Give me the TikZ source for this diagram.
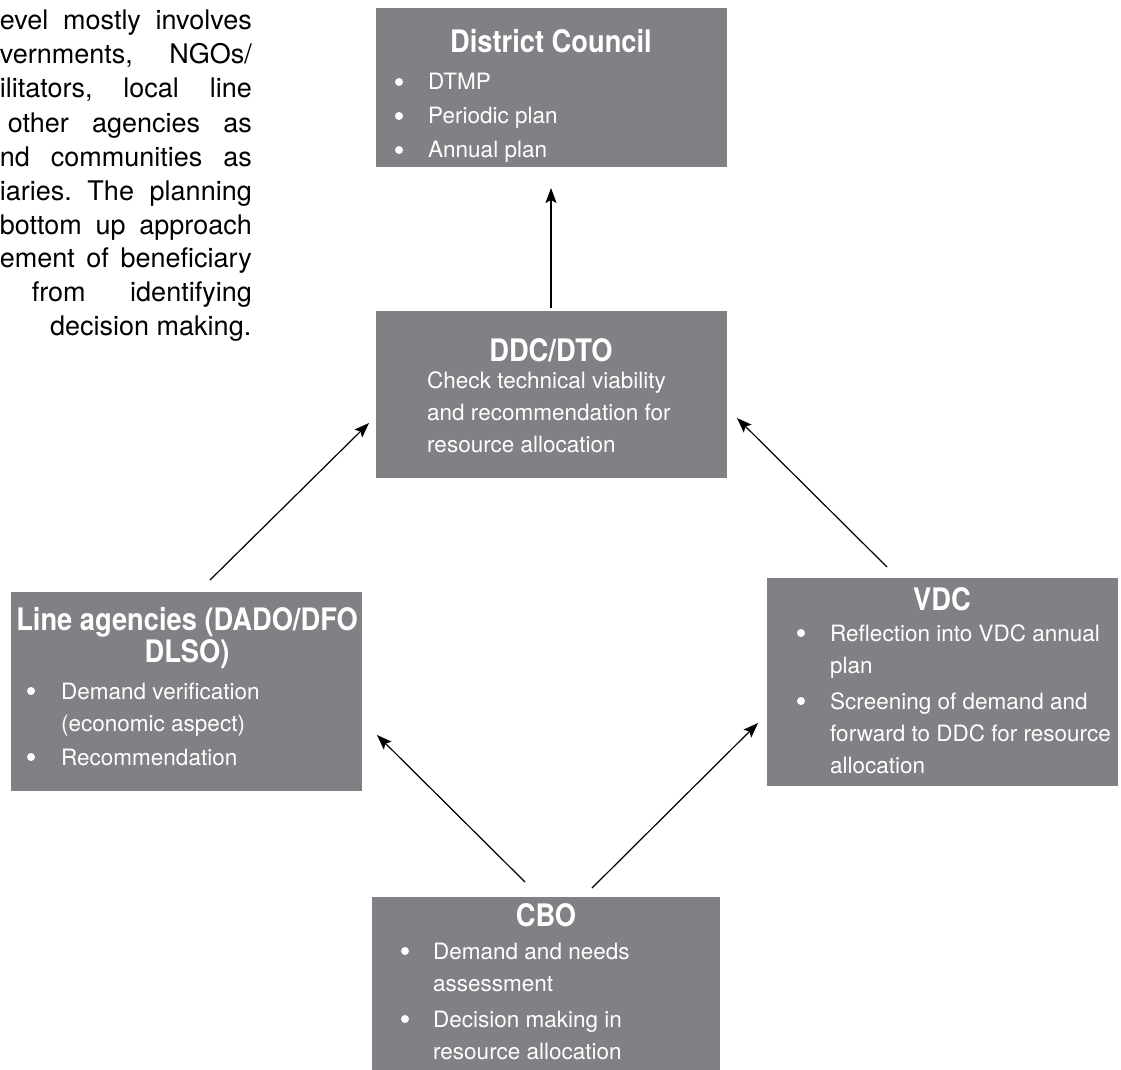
\documentclass[tikz,border=0pt]{standalone}
\usepackage{fontspec}
\setmainfont{TeX Gyre Heros}
\newfontfamily\ttlfont[FakeStretch=0.88]{TeX Gyre Heros}
\usetikzlibrary{arrows.meta}
\definecolor{boxgray}{RGB}{128,129,133}
\newcommand\bl{\makebox[34pt][l]{}}
\begin{document}
\begin{tikzpicture}[x=1pt,y=-1pt,
  box/.style={fill=boxgray, draw=none, anchor=north west, inner sep=0pt, outer sep=0pt},
  ttl/.style={text=white, font=\ttlfont\bfseries\fontsize{31}{32}\selectfont, anchor=base, inner sep=0pt},
  lst/.style={text=white, font=\fontsize{22.5}{32}\selectfont, anchor=base west, inner sep=0pt},
  para/.style={text=black, font=\fontsize{27}{34}\selectfont, anchor=base east, inner sep=0pt},
  dot/.style={fill=white},
  arr/.style={line width=1.2pt, -{Stealth[length=15pt,width=11pt,inset=3pt]}}]
\useasboundingbox (0,0) rectangle (1121,1070);

% paragraph
\node[para] (p1) at (252,30) {\hbox to 252pt{evel\hfill mostly\hfill involves}};
\node[para] (p2) at (252,64) {\hbox to 252pt{vernments,\hfill NGOs/}};
\node[para] (p3) at (252,98) {\hbox to 252pt{ilitators,\hfill local\hfill line}};
\node[para] (p4) at (252,132) {\hbox to 244pt{other\hfill agencies\hfill as}};
\node[para] (p5) at (252,166) {\hbox to 252pt{nd\hfill communities\hfill as}};
\node[para] (p6) at (252,200) {\hbox to 252pt{iaries.\hfill The\hfill planning}};
\node[para] (p7) at (252,234) {\hbox to 252pt{bottom\hfill up\hfill approach}};
\node[para] (p8) at (252,267) {\hbox to 252pt{ement\hfill of\hfill beneficiary}};
\node[para] (p9) at (252,301) {\hbox to 220pt{from\hfill identifying}};
\node[para, anchor=base west] (p10) at (50,335) {decision making.};

% boxes
\node[box, minimum width=351pt, minimum height=159pt] (dc) at (376,8) {};
\node[box, minimum width=351pt, minimum height=167pt] (ddc) at (376,311) {};
\node[box, minimum width=351pt, minimum height=199pt] (la) at (11,592) {};
\node[box, minimum width=351pt, minimum height=208pt] (vdc) at (767,578) {};
\node[box, minimum width=348pt, minimum height=173pt] (cbo) at (372,897) {};

% District Council
\node[ttl] (dct) at (551,53) {District Council};
\node[lst] (dcl) at (394,90) {\begin{tabular}[t]{@{}l@{}}
\bl DTMP\\[2pt]
\bl Periodic plan\\[2pt]
\bl Annual plan
\end{tabular}};
\fill[dot] (399,82) circle[radius=4];
\fill[dot] (399,116) circle[radius=4];
\fill[dot] (399,150) circle[radius=4];

% DDC/DTO
\node[ttl] (ddct) at (551,361) {DDC/DTO};
\node[lst] (ddcl) at (427,388) {\begin{tabular}[t]{@{}l@{}}
Check technical viability\\
and recommendation for\\
resource allocation
\end{tabular}};

% Line agencies
\node[ttl] (lat) at (187,630) {\begin{tabular}[t]{@{}c@{}}
Line agencies (DADO/DFO\\
DLSO)
\end{tabular}};
\node[lst] (lal) at (27,699) {\begin{tabular}[t]{@{}l@{}}
\bl Demand verification\\
\bl (economic aspect)\\[2pt]
\bl Recommendation
\end{tabular}};
\fill[dot] (31,691) circle[radius=4];
\fill[dot] (31,757) circle[radius=4];

% VDC
\node[ttl] (vdct) at (942,610) {VDC};
\node[lst] (vdcl) at (796,641) {\begin{tabular}[t]{@{}l@{}}
\bl Reflection into VDC annual\\
\bl plan\\[4pt]
\bl Screening of demand and\\
\bl forward to DDC for resource\\
\bl allocation
\end{tabular}};
\fill[dot] (801,633) circle[radius=4];
\fill[dot] (801,701) circle[radius=4];

% CBO
\node[ttl] (cbot) at (546,926) {CBO};
\node[lst] (cbol) at (399,959) {\begin{tabular}[t]{@{}l@{}}
\bl Demand and needs\\
\bl assessment\\[4pt]
\bl Decision making in\\
\bl resource allocation
\end{tabular}};
\fill[dot] (405,951) circle[radius=4];
\fill[dot] (405,1019) circle[radius=4];

% connector end points
\coordinate (ddc-out) at (551,308);
\coordinate (dc-in) at (551,188);
\coordinate (la-out) at (210,580);
\coordinate (ddc-inL) at (369,423);
\coordinate (vdc-out) at (887,567);
\coordinate (ddc-inR) at (737,418);
\coordinate (cbo-outL) at (525,882);
\coordinate (la-in) at (377,735);
\coordinate (cbo-outR) at (592,888);
\coordinate (vdc-in) at (758,723);

\draw[arr] (ddc-out) -- (dc-in);
\draw[arr] (la-out) -- (ddc-inL);
\draw[arr] (vdc-out) -- (ddc-inR);
\draw[arr] (cbo-outL) -- (la-in);
\draw[arr] (cbo-outR) -- (vdc-in);
\end{tikzpicture}
\end{document}
